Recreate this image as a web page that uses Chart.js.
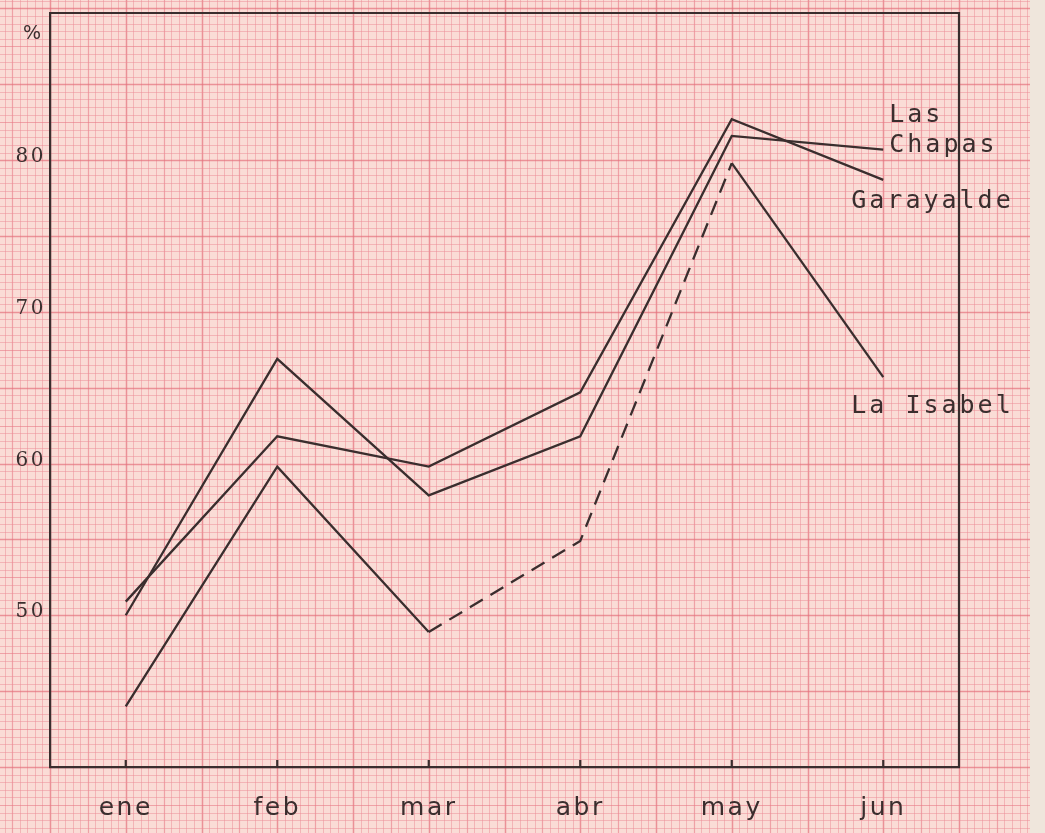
<!DOCTYPE html>
<html>
<head>
<meta charset="utf-8">
<script src="https://cdn.jsdelivr.net/npm/chart.js@4.4.1/dist/chart.umd.min.js"></script>
<style>
html,body{margin:0;padding:0;background:#f9d9d3;}
canvas{display:block;}
</style>
</head>
<body>
<canvas id="c" width="1045" height="833"></canvas>
<script>
// ---- data ----
const months = ['ene', 'feb', 'mar', 'abr', 'may', 'jun'];
const garayalde = [50.7, 61.6, 59.6, 64.5, 82.5, 78.5];
const lasChapas = [49.8, 66.7, 57.7, 61.6, 81.4, 80.5];
const laIsabel  = [43.8, 59.6, 48.7, 54.7, 79.6, 65.5];
const yTickValues = [50, 60, 70, 80];
const yUnit = '%';
const seriesNames = ['Garayalde', 'Las Chapas', 'La Isabel'];

const INK = '#3a2e2e';

const paperPlugin = {
  id: 'paper',
  beforeDraw(chart) {
    const ctx = chart.ctx;
    const W = chart.width, H = chart.height;
    const area = chart.chartArea;
    const xs = chart.scales.x, ys = chart.scales.y;
    ctx.save();
    ctx.fillStyle = '#fadcd6';
    ctx.fillRect(0, 0, W, H);
    const majX = (xs.getPixelForValue(1) - xs.getPixelForValue(0)) / 2;
    const majY = (ys.getPixelForValue(0) - ys.getPixelForValue(5));
    const drawSet = (horizontal) => {
      const maj = horizontal ? majY : majX;
      const origin = horizontal ? area.bottom : area.left;
      const minor = maj / 10;
      const limit = horizontal ? H : W;
      const start = -Math.ceil(origin / minor);
      const end = Math.ceil((limit - origin) / minor);
      for (let i = start; i <= end; i++) {
        const p = Math.round(origin + i * minor) + 0.5;
        const m = ((i % 10) + 10) % 10;
        if (m === 0) { ctx.strokeStyle = 'rgba(228,112,124,0.7)'; ctx.lineWidth = 1.5; }
        else if (m === 5) { ctx.strokeStyle = 'rgba(232,122,134,0.6)'; ctx.lineWidth = 1.2; }
        else { ctx.strokeStyle = 'rgba(236,140,150,0.5)'; ctx.lineWidth = 1; }
        ctx.beginPath();
        if (horizontal) { ctx.moveTo(0, p); ctx.lineTo(W, p); }
        else { ctx.moveTo(p, 0); ctx.lineTo(p, H); }
        ctx.stroke();
      }
    };
    drawSet(false);
    drawSet(true);
    ctx.fillStyle = '#efe6dc';
    ctx.fillRect(1030, 0, W - 1030, H);
    ctx.restore();
    ctx.letterSpacing = '2.5px';
  },
  afterDraw(chart) {
    const ctx = chart.ctx;
    const area = chart.chartArea;
    const xs = chart.scales.x, ys = chart.scales.y;
    ctx.save();
    ctx.strokeStyle = INK;
    ctx.lineWidth = 2.2;
    ctx.beginPath();
    ctx.moveTo(area.left, area.top);
    ctx.lineTo(area.right, area.top);
    ctx.lineTo(area.right, area.bottom);
    ctx.stroke();
    months.forEach((m, i) => {
      const x = xs.getPixelForValue(i);
      ctx.beginPath();
      ctx.moveTo(x, area.bottom);
      ctx.lineTo(x, area.bottom - 7);
      ctx.stroke();
    });
    ctx.fillStyle = INK;
    ctx.letterSpacing = '0px';
    ctx.font = '19px "DejaVu Sans"';
    ctx.textAlign = 'center';
    ctx.textBaseline = 'middle';
    ctx.fillText(yUnit, area.left - 18, area.top + 21);
    ctx.font = '25px "DejaVu Sans Mono"';
    ctx.letterSpacing = '3px';
    ctx.textAlign = 'left';
    const last = months.length - 1;
    const px = xs.getPixelForValue(last);
    const yC = ys.getPixelForValue(lasChapas[last]);
    const yG = ys.getPixelForValue(garayalde[last]);
    const yI = ys.getPixelForValue(laIsabel[last]);
    ctx.fillText('Las', px + 6, yC - 34);
    ctx.fillText('Chapas', px + 6, yC - 4);
    ctx.fillText(seriesNames[0], px - 32, yG + 22);
    ctx.fillText(seriesNames[2], px - 32, yI + 29);
    ctx.restore();
  }
};

const lineStyle = {
  borderColor: INK,
  borderWidth: 2.3,
  pointRadius: 0,
  tension: 0,
  fill: false
};

new Chart(document.getElementById('c'), {
  type: 'line',
  data: {
    labels: months,
    datasets: [
      Object.assign({ label: seriesNames[0], data: garayalde }, lineStyle),
      Object.assign({ label: seriesNames[1], data: lasChapas }, lineStyle),
      Object.assign({
        label: seriesNames[2], data: laIsabel,
        segment: { borderDash: c => (c.p0DataIndex === 2 || c.p0DataIndex === 3) ? [15, 9] : undefined }
      }, lineStyle)
    ]
  },
  options: {
    responsive: false,
    animation: false,
    devicePixelRatio: 1,
    layout: { padding: { top: 13, right: 86, left: 0, bottom: 0 } },
    plugins: { legend: { display: false }, tooltip: { enabled: false }, title: { display: false } },
    scales: {
      x: {
        offset: true,
        grid: { display: false, drawTicks: false },
        border: { display: true, color: INK, width: 2.2 },
        ticks: { color: INK, font: { family: 'DejaVu Sans', size: 25 }, padding: 26 },
        afterFit: s => { s.height = 66; s.paddingLeft = 0; s.paddingRight = 0; }
      },
      y: {
        min: 39.8,
        max: 89.5,
        grid: { display: false, drawTicks: false },
        border: { display: true, color: INK, width: 2.2 },
        afterBuildTicks: s => { s.ticks = yTickValues.map(v => ({ value: v })); },
        ticks: { color: INK, font: { family: 'DejaVu Serif', size: 20 }, padding: 4 },
        afterFit: s => { s.width = 50; s.paddingTop = 0; s.paddingBottom = 0; }
      }
    }
  },
  plugins: [paperPlugin]
});
</script>
</body>
</html>
